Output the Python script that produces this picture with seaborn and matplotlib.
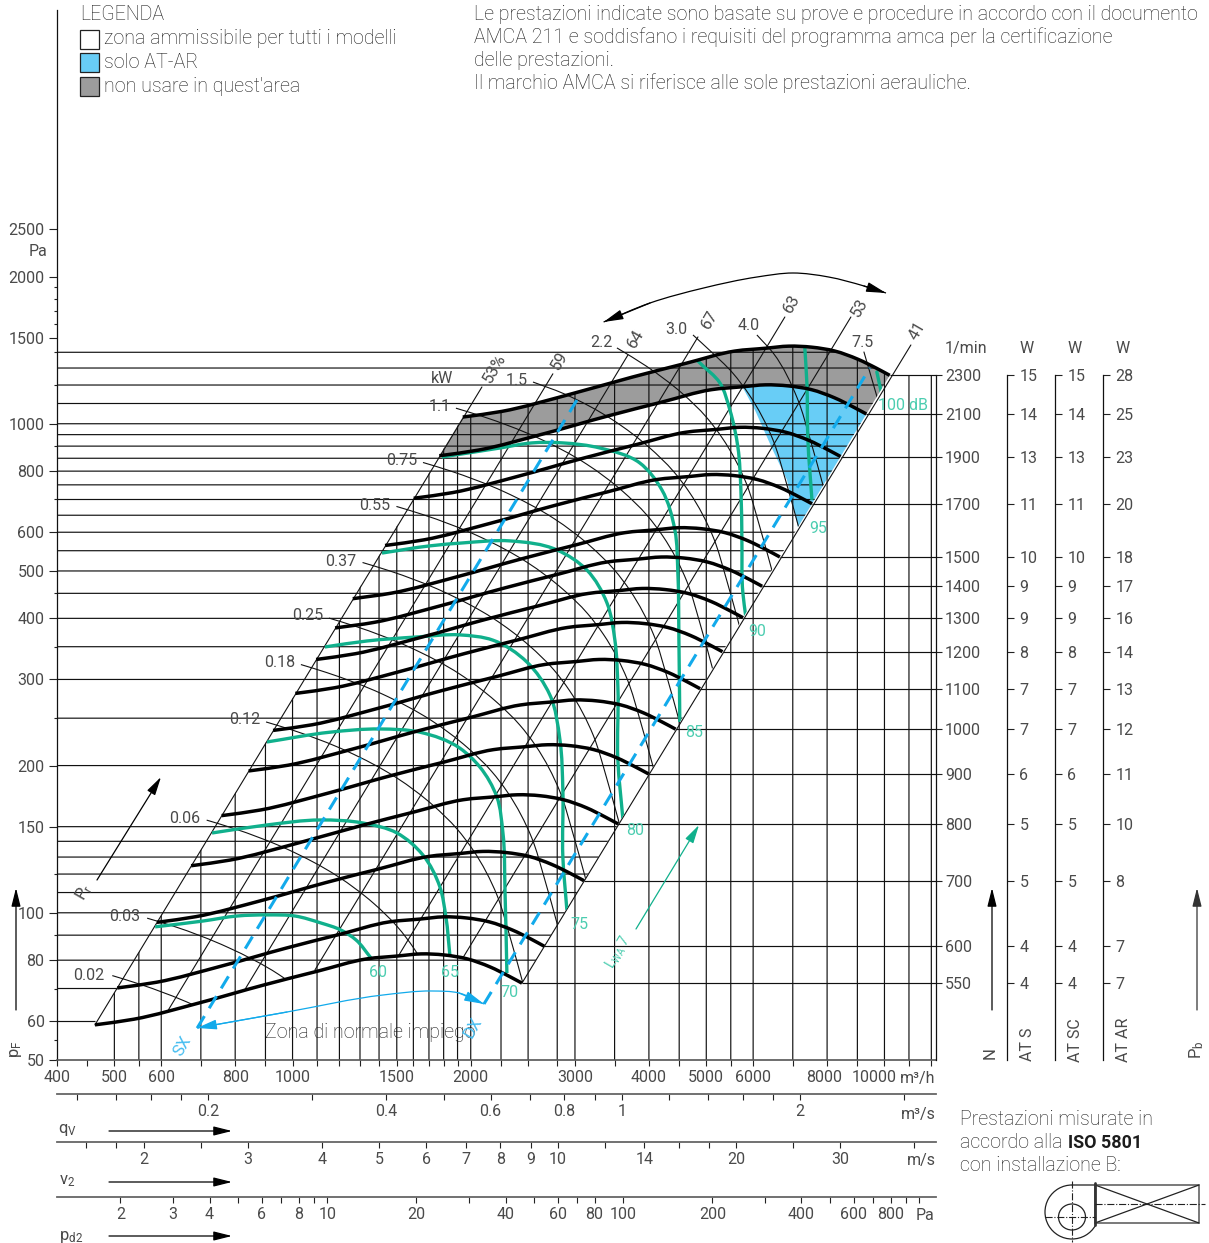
import numpy as np
import pandas as pd
import matplotlib
matplotlib.use('Agg')
import matplotlib.pyplot as plt
from matplotlib.patches import Polygon, Rectangle, Arc, Ellipse, PathPatch
from matplotlib.path import Path
from matplotlib.ticker import NullFormatter
import seaborn as sns

# ---- fan curves, one per speed: flow m3/h, pressure Pa
rpm_labels = [550, 600, 700, 800, 900, 1000, 1100, 1200, 1300, 1400, 1500, 1700, 1900, 2100, 2300]
q_550 = [463.6, 540, 695, 895, 1104, 1336, 1507, 1648, 1802, 1972, 2156, 2320, 2441]
p_550 = [59, 60.6, 65.4, 71.2, 76, 80.5, 81.6, 82.4, 82, 80.5, 77.5, 74.2, 71.8]
q_600 = [505.7, 589, 758, 976, 1204, 1457, 1644, 1798, 1966, 2151, 2352, 2531, 2663]
p_600 = [70.2, 72.1, 77.8, 84.7, 90.4, 95.8, 97.1, 98.1, 97.6, 95.8, 92.2, 88.3, 85.4]
q_700 = [590, 687, 885, 1139, 1405, 1700, 1918, 2097, 2293, 2510, 2744, 2953, 3107]
p_700 = [95.6, 98.2, 105.9, 115.3, 123.1, 130.4, 132.2, 133.5, 132.8, 130.4, 125.5, 120.2, 116.3]
q_800 = [674, 785, 1011, 1302, 1606, 1943, 2192, 2397, 2621, 2868, 3136, 3374, 3550]
p_800 = [124.8, 128.2, 138.4, 150.6, 160.8, 170.3, 172.6, 174.3, 173.5, 170.3, 164, 157, 151.9]
q_900 = [759, 884, 1137, 1465, 1807, 2186, 2466, 2697, 2949, 3227, 3528, 3796, 3994]
p_900 = [158, 162.3, 175.1, 190.7, 203.5, 215.6, 218.5, 220.6, 219.6, 215.6, 207.5, 198.7, 192.3]
q_1000 = [843, 982, 1264, 1627, 2007, 2429, 2740, 2996, 3276, 3586, 3920, 4218, 4438]
p_1000 = [195, 200.3, 216.2, 235.4, 251.2, 266.1, 269.8, 272.4, 271.1, 266.1, 256.2, 245.3, 237.4]
q_1100 = [927, 1080, 1390, 1790, 2208, 2672, 3014, 3296, 3604, 3944, 4312, 4640, 4882]
p_1100 = [236, 242.4, 261.6, 284.8, 304, 322, 326.4, 329.6, 328, 322, 310, 296.8, 287.2]
q_1200 = [1011, 1178, 1516, 1953, 2409, 2915, 3288, 3596, 3932, 4303, 4704, 5062, 5326]
p_1200 = [280.9, 288.5, 311.3, 338.9, 361.8, 383.2, 388.4, 392.3, 390.3, 383.2, 368.9, 353.2, 341.8]
q_1300 = [1096, 1276, 1643, 2115, 2609, 3158, 3562, 3895, 4259, 4661, 5096, 5484, 5770]
p_1300 = [329.6, 338.6, 365.4, 397.8, 424.6, 449.7, 455.9, 460.4, 458.1, 449.7, 433, 414.5, 401.1]
q_1400 = [1180, 1375, 1769, 2278, 2810, 3401, 3836, 4195, 4587, 5020, 5488, 5906, 6214]
p_1400 = [382.3, 392.6, 423.7, 461.3, 492.4, 521.6, 528.7, 533.9, 531.3, 521.6, 502.1, 480.8, 465.2]
q_1500 = [1264, 1473, 1895, 2441, 3011, 3644, 4110, 4495, 4915, 5378, 5880, 6327, 6657]
p_1500 = [438.8, 450.7, 486.4, 529.6, 565.3, 598.8, 606.9, 612.9, 609.9, 598.8, 576.4, 551.9, 534]
q_1700 = [1433, 1669, 2148, 2766, 3412, 4129, 4658, 5094, 5570, 6095, 6664, 7171, 7545]
p_1700 = [563.7, 579, 624.8, 680.2, 726.1, 769.1, 779.6, 787.2, 783.4, 769.1, 740.4, 708.9, 686]
q_1900 = [1602, 1865, 2401, 3092, 3814, 4615, 5206, 5693, 6225, 6812, 7448, 8014, 8432]
p_1900 = [704.1, 723.2, 780.5, 849.7, 907, 960.7, 973.8, 983.4, 978.6, 960.7, 924.9, 885.5, 856.9]
q_2100 = [1770, 2062, 2654, 3417, 4215, 5101, 5754, 6292, 6880, 7529, 8232, 8858, 9320]
p_2100 = [860.2, 883.5, 953.5, 1038, 1108, 1174, 1190, 1201, 1195, 1174, 1130, 1082, 1047]
q_2300 = [1939, 2258, 2906, 3743, 4617, 5587, 6302, 6891, 7536, 8246, 9016, 9702, 10208]
p_2300 = [1032, 1060, 1144, 1245, 1329, 1408, 1427, 1441, 1434, 1408, 1355, 1298, 1256]

# absorbed power lines
kw_labels = ['0.02', '0.03', '0.06', '0.12', '0.18', '0.25', '0.37', '0.55', '0.75', '1.1', '1.5', '2.2', '3.0', '4.0', '7.5']
kw_q = [
    [496, 549, 680, 826],
    [568, 629, 779, 946, 1087],
    [716, 792, 981, 1191, 1370, 1505, 1602, 1757],
    [902, 998, 1236, 1501, 1726, 1896, 2018, 2214, 2330, 2450],
    [1033, 1142, 1415, 1718, 1976, 2170, 2310, 2534, 2667, 2805],
    [1152, 1274, 1578, 1917, 2204, 2421, 2577, 2827, 2975, 3129],
    [1313, 1453, 1799, 2185, 2512, 2760, 2937, 3222, 3391, 3566],
    [1498, 1658, 2053, 2493, 2867, 3149, 3352, 3677, 3870, 4069],
    [1661, 1838, 2277, 2765, 3179, 3492, 3717, 4078, 4292, 4513],
    [1888, 2089, 2587, 3142, 3613, 3969, 4224, 4634, 4877, 5128],
    [2548, 2868, 3484, 4006, 4400, 4683, 5138, 5407, 5686],
    [3532, 3958, 4552, 5000, 5322, 5839, 6144, 6461],
    [4748, 5047, 5544, 5901, 6474, 6813, 7164],
    [6088, 6495, 7125, 7499, 7885],
    [9233, 9723],
]
kw_p = [
    [74.4, 71.6, 64.8, 57.1],
    [97.5, 93.9, 84.9, 74.9, 65.9],
    [154.7, 149, 134.8, 118.8, 104.6, 93.5, 84.7, 68.5],
    [245.6, 236.5, 214, 188.6, 166, 148.4, 134.4, 108.8, 89.3, 71.8],
    [321.8, 309.9, 280.4, 247.1, 217.5, 194.5, 176.1, 142.6, 117, 94.1],
    [400.5, 385.7, 349, 307.6, 270.7, 242, 219.2, 177.4, 145.6, 117.1],
    [520.3, 501, 453.4, 399.6, 351.7, 314.4, 284.7, 230.5, 189.2, 152.1],
    [677.5, 652.4, 590.3, 520.3, 457.9, 409.4, 370.8, 300.1, 246.3, 198.1],
    [833.3, 802.4, 726.1, 639.9, 563.2, 503.5, 456, 369.2, 303, 243.6],
    [1076, 1036, 937.6, 826.3, 727.3, 650.2, 588.9, 476.7, 391.3, 314.6],
    [1217, 1153, 1016, 894.1, 799.3, 723.9, 586, 481, 386.7],
    [1429, 1312, 1154, 1032, 934.6, 756.6, 621, 499.3],
    [1519, 1419, 1269, 1149, 930, 763.5, 613.9],
    [1519, 1392, 1127, 924.9, 743.6],
    [1402, 1131],
]

# sound power curves, dB
db_labels = [60, 65, 70, 75, 80, 85, 90, 95, 100]
db_q = [
    [586, 706, 806, 909, 1009, 1117, 1207, 1280, 1357],
    [731, 905, 1113, 1315, 1501, 1660, 1774, 1816, 1844],
    [905, 1156, 1405, 1642, 1918, 2072, 2214, 2267, 2285, 2302],
    [1134, 1336, 1622, 1918, 2180, 2488, 2721, 2830, 2862, 2862, 2907],
    [1416, 1706, 1940, 2330, 2797, 3143, 3398, 3504, 3545, 3545, 3616],
    [1788, 2240, 2537, 2862, 3307, 3859, 4208, 4425, 4477, 4495, 4511],
    [4785, 4878, 5272, 5481, 5654, 5721, 5743, 5765, 5832],
    [7336, 7394, 7424, 7542],
    [9708, 9899],
]
db_p = [
    [93.6, 96.2, 98.5, 99, 98.5, 95.3, 92.2, 88, 80.8],
    [145.6, 151.2, 154.8, 152.6, 145.6, 131.3, 112.9, 98, 82],
    [223.5, 234, 237.6, 234, 217, 198.7, 172.5, 145.6, 111.4, 75.3],
    [349.6, 359.6, 366.4, 370, 361, 325.7, 278.9, 225.6, 178.3, 130, 101.4],
    [544, 562.7, 570.6, 576, 552, 502, 430, 361, 289.6, 205, 154.8],
    [855, 892, 913.7, 913.7, 892, 831.7, 732, 606.6, 495, 361, 245.6],
    [1363, 1331, 1212, 1067, 896, 732, 578.6, 451, 402.6],
    [1429, 1212, 926.7, 698.6],
    [1276, 1145],
]

# efficiency lines, start on the low curve, end at the label
eff_labels = ['53%', '59', '64', '67', '63', '53', '41']
eff_q0 = [463.6, 614, 828, 1091, 1513, 1939, 2441]
eff_p0 = [59, 62.7, 69.2, 76.4, 82, 80.8, 71.8]
eff_q1 = [2089, 2753, 3686, 4841, 6788, 8776, 11083]
eff_p1 = [1189, 1265, 1382, 1505, 1653, 1653, 1449]

# SX / DX limits of normal use
sx_q = [690, 3024]
sx_p = [58.1, 1119]
dx_q = [2106, 9445]
dx_p = [65.1, 1300]

# blue "solo AT-AR" area
blue_q = [5754, 6292, 6880, 7529, 8232, 8858, 9320, 7143, 6843, 6478, 6041]
blue_p = [1190, 1201, 1195, 1174, 1130, 1082, 1047, 615, 767.5, 883, 1067]

# grid of the chart
grid_q = [500, 550, 600, 700, 800, 900, 1000, 1100, 1200, 1300, 1400, 1500, 1600, 1700, 1800, 1900, 2000,
          2250, 2500, 2800, 3000, 3500, 4000, 4500, 5000, 5500, 6000, 7000, 8000, 9000, 10000, 11000, 12000]
grid_p = [80, 90, 100, 110, 120, 130, 140, 150, 200, 250, 300, 350, 400, 450, 500, 550, 600, 650, 700, 750,
          800, 850, 900, 950, 1000, 1100, 1200, 1300, 1400]

q_ticks = [400, 500, 600, 800, 1000, 1500, 2000, 3000, 4000, 5000, 6000, 8000, 10000]
p_ticks = [50, 60, 80, 100, 150, 200, 300, 400, 500, 600, 800, 1000, 1500, 2000, 2500]
p_minor = [55, 70, 90, 120, 250, 350, 450, 700, 900, 1200, 1400, 1600, 1700, 1800, 1900]

qs_ticks = [0.2, 0.4, 0.6, 0.8, 1, 2]
qs_minor = [0.12, 0.14, 0.16, 0.18, 0.3, 0.5, 0.7, 0.9, 1.2, 1.4, 1.6, 1.8, 3]
v_ticks = [2, 3, 4, 5, 6, 7, 8, 9, 10, 14, 20, 30]
v_minor = [1.6, 1.8, 2.5, 12, 16, 18, 25, 40]
pd_ticks = [2, 3, 4, 6, 8, 10, 20, 40, 60, 80, 100, 200, 400, 600, 800]
pd_minor = [5, 7, 9, 30, 50, 70, 300, 500, 700, 900, 1000]

w_at_s = [4, 4, 5, 5, 6, 7, 7, 8, 9, 9, 10, 11, 13, 14, 15]
w_at_sc = [4, 4, 5, 5, 6, 7, 7, 8, 9, 9, 10, 11, 13, 14, 15]
w_at_ar = [7, 7, 8, 10, 11, 12, 13, 14, 16, 17, 18, 20, 23, 25, 28]

header_lines = ['Le prestazioni indicate sono basate su prove e procedure in accordo con il documento',
                'AMCA 211 e soddisfano i requisiti del programma amca per la certificazione',
                'delle prestazioni.',
                'Il marchio AMCA si riferisce alle sole prestazioni aerauliche.']
legend_items = ['zona ammissibile per tutti i modelli', 'solo AT-AR', "non usare in quest'area"]

sns.set_theme(style='ticks')
plt.rcParams['font.family'] = ['Roboto', 'DejaVu Sans']
plt.rcParams['mathtext.default'] = 'regular'
plt.rcParams['xtick.major.width'] = 0.8
plt.rcParams['ytick.major.width'] = 0.8
plt.rcParams['xtick.minor.width'] = 0.8
plt.rcParams['ytick.minor.width'] = 0.8

W, H = 1209, 1243
TXT = '#4a4a4a'
TXT_DARK = '#1c1c1c'
GREEN = '#10b08c'
GREEN_T = '#4ccdb0'
BLUE = '#12aaeb'
FS = 11.5
FT = 14.1

fig = plt.figure(figsize=(W / 100, H / 100), dpi=100, facecolor='white')


def add_px_axes(x0, y0, x1, y1):
    # axes given in picture pixels, y down
    return fig.add_axes([x0 / W, (H - y1) / H, (x1 - x0) / W, (y1 - y0) / H])


def smooth_line(ln, a, clip=None, log=True):
    # swap a polyline for a bezier through the very same vertices
    xs, ys = ln.get_data()
    xs = np.asarray(xs, dtype=float)
    ys = np.asarray(ys, dtype=float)
    if len(xs) > 2:
        u = np.log10(xs) * 592 if log else xs
        v = np.log10(ys) * 489 if log else ys
        d = np.hypot(np.diff(u), np.diff(v))
        t = np.concatenate([[0], np.cumsum(d)])
        du = np.gradient(u, t)
        dv = np.gradient(v, t)
        verts = [(u[0], v[0])]
        codes = [Path.MOVETO]
        for i in range(len(d)):
            verts.append((u[i] + du[i] * d[i] / 3, v[i] + dv[i] * d[i] / 3))
            verts.append((u[i + 1] - du[i + 1] * d[i] / 3, v[i + 1] - dv[i + 1] * d[i] / 3))
            verts.append((u[i + 1], v[i + 1]))
            codes += [Path.CURVE4] * 3
        verts = np.array(verts)
        if log:
            verts = np.column_stack([10 ** (verts[:, 0] / 592), 10 ** (verts[:, 1] / 489)])
        patch = PathPatch(Path(verts, codes), fc='none', ec=ln.get_color(), lw=ln.get_linewidth(),
                          zorder=ln.get_zorder(), capstyle='butt', joinstyle='round')
        a.add_patch(patch)
        ln.remove()
        if clip is not None:
            patch.set_clip_path(clip)
    elif clip is not None:
        ln.set_clip_path(clip)


XL = (400, 12220)
YL = (50, 7015)
ax = add_px_axes(57, 10, 936, 1060)
ax.set_xscale('log')
ax.set_yscale('log')
ax.set_xlim(*XL)
ax.set_ylim(*YL)
ax.patch.set_alpha(0)

# clip shapes
clip_par = Polygon(list(zip(q_550, p_550)) + list(zip(q_2300[::-1], p_2300[::-1])), closed=True, transform=ax.transData)
clip_low = Polygon(list(zip(q_550, p_550)) + [(10208, 1256), (15000, 2712), (300, 2712), (300, 59)], closed=True, transform=ax.transData)
clip_v = Polygon([(463.6, 50), (463.6, 59)] + list(zip(q_2300, p_2300)) + [(12220, 1256), (12220, 50)], closed=True, transform=ax.transData)
clip_h = Polygon([(300, 50), (300, 1441)] + list(zip(q_2300[7:], p_2300[7:])) + [(2441, 71.8), (2441, 50)], closed=True, transform=ax.transData)

# areas
ax.fill(q_2300 + q_2100[::-1], p_2300 + p_2100[::-1], color='#9c9c9c', lw=0, zorder=1)
ax.fill(blue_q, blue_p, color='#68cdf6', lw=0, zorder=1)

# grid, not snapped so the lines take the soft grey look of the scan
gv = ax.vlines(grid_q, 50, 5000, color='#111111', lw=0.85, zorder=2)
gv.set_clip_path(clip_v)
gv.set_snap(False)
gh = ax.hlines(grid_p, 300, 15000, color='#111111', lw=0.85, zorder=2)
gh.set_clip_path(clip_h)
gh.set_snap(False)
ax.hlines([60, 70.2], 400, [463.6, 505.7], color='#111111', lw=0.85, zorder=2)
rpm_curves_q = [q_550, q_600, q_700, q_800, q_900, q_1000, q_1100, q_1200, q_1300, q_1400, q_1500, q_1700, q_1900, q_2100, q_2300]
rpm_curves_p = [p_550, p_600, p_700, p_800, p_900, p_1000, p_1100, p_1200, p_1300, p_1400, p_1500, p_1700, p_1900, p_2100, p_2300]
p_end = [c[-1] for c in rpm_curves_p]
q_end = [c[-1] for c in rpm_curves_q]
ax.hlines(p_end, q_end, XL[1], color='#111111', lw=0.85, zorder=2)

# efficiency lines
for q0, p0, q1, p1 in zip(eff_q0, eff_p0, eff_q1, eff_p1):
    ax.plot([q0, q1], [p0, p1], color='#111111', lw=0.8, zorder=3)

# power lines
rows = []
for name, qq, pp in zip(kw_labels, kw_q, kw_p):
    rows.append(pd.DataFrame({'q': qq, 'p': pp, 'kw': name}))
df_kw = pd.concat(rows)
n = len(ax.lines)
sns.lineplot(data=df_kw, x='q', y='p', units='kw', estimator=None, sort=False, color='#111111', lw=0.8, legend=False, ax=ax, zorder=3)
for ln in list(ax.lines[n:]):
    smooth_line(ln, ax, clip=clip_low)

# dB curves
rows = []
for name, qq, pp in zip(db_labels, db_q, db_p):
    rows.append(pd.DataFrame({'q': qq, 'p': pp, 'db': name}))
df_db = pd.concat(rows)
n = len(ax.lines)
sns.lineplot(data=df_db, x='q', y='p', units='db', estimator=None, sort=False, color=GREEN, lw=2.4, legend=False, ax=ax, zorder=4)
for ln in list(ax.lines[n:]):
    smooth_line(ln, ax, clip=clip_par)

# speed curves
rows = []
for name, qq, pp in zip(rpm_labels, rpm_curves_q, rpm_curves_p):
    rows.append(pd.DataFrame({'q': qq, 'p': pp, 'rpm': name}))
df_rpm = pd.concat(rows)
n = len(ax.lines)
sns.lineplot(data=df_rpm, x='q', y='p', units='rpm', estimator=None, sort=False, color='black', lw=2.5, legend=False, ax=ax, zorder=5)
for ln in list(ax.lines[n:]):
    smooth_line(ln, ax)

# SX, DX
ax.plot(sx_q, sx_p, color=BLUE, lw=2.2, ls=(0, (4.6, 3)), zorder=6)
ax.plot(dx_q, dx_p, color=BLUE, lw=2.2, ls=(0, (4.6, 3)), zorder=6)

ax.set_xlim(*XL)
ax.set_ylim(*YL)
ax.set_xlabel('')
ax.set_ylabel('')
ax.set_xticks(q_ticks)
ax.set_xticklabels([str(v) if v < 8000 else '' for v in q_ticks])
ax.set_xticks([450] + [v for v in grid_q if v not in q_ticks], minor=True)
ax.xaxis.set_minor_formatter(NullFormatter())
ax.set_yticks(p_ticks)
ax.set_yticklabels([str(v) for v in p_ticks])
ax.set_yticks(p_minor, minor=True)
ax.yaxis.set_minor_formatter(NullFormatter())
ax.tick_params(axis='x', which='major', length=4.5, pad=3, labelsize=FS, colors='#222222', labelcolor=TXT)
ax.tick_params(axis='x', which='minor', length=4.5, colors='#222222')
ax.tick_params(axis='y', which='major', length=6, pad=3, labelsize=FS, colors='#222222', labelcolor=TXT)
ax.tick_params(axis='y', which='minor', length=2.5, colors='#222222')
ax.spines['top'].set_visible(False)
ax.spines['right'].set_visible(False)
ax.spines['left'].set_color('#111111')
ax.spines['left'].set_linewidth(0.9)
ax.spines['bottom'].set_color('#555555')
ax.spines['bottom'].set_linewidth(1.2)

# speed scale on the right
ar = ax.twinx()
ar.set_yscale('log')
ar.set_ylim(*YL)
ar.patch.set_alpha(0)
ar.set_yticks(p_end)
ar.set_yticklabels([str(v) for v in rpm_labels])
ar.yaxis.set_minor_locator(plt.NullLocator())
ar.yaxis.set_minor_formatter(NullFormatter())
ar.tick_params(axis='y', length=4, pad=2.5, labelsize=FS, colors='#222222', labelcolor=TXT)
ar.grid(False)
for s in ['top', 'left', 'bottom']:
    ar.spines[s].set_visible(False)
ar.spines['right'].set_bounds(50, 1256)
ar.spines['right'].set_color('#111111')
ar.spines['right'].set_linewidth(0.9)

# W scales
for xpos, vals in zip([1007, 1055, 1103], [w_at_s, w_at_sc, w_at_ar]):
    aw = add_px_axes(xpos - 1, 10, xpos, 1060)
    aw.set_yscale('log')
    aw.set_ylim(*YL)
    aw.set_xticks([])
    aw.patch.set_alpha(0)
    aw.yaxis.tick_right()
    aw.set_yticks(p_end)
    aw.set_yticklabels([str(v) for v in vals])
    aw.yaxis.set_minor_locator(plt.NullLocator())
    aw.yaxis.set_minor_formatter(NullFormatter())
    aw.tick_params(axis='y', length=5, pad=4, labelsize=FS, colors='#222222', labelcolor=TXT)
    for s in ['top', 'left', 'bottom']:
        aw.spines[s].set_visible(False)
    aw.spines['right'].set_bounds(50, 1256)
    aw.spines['right'].set_color('#111111')
    aw.spines['right'].set_linewidth(0.9)


# lower scales
def lower_scale(ypx, lims, major, minor):
    a = add_px_axes(57, ypx - 1, 936, ypx)
    a.set_xscale('log')
    a.set_xlim(*lims)
    a.set_yticks([])
    a.patch.set_alpha(0)
    a.set_xticks(major)
    a.set_xticklabels([str(v) for v in major])
    a.set_xticks(minor, minor=True)
    a.xaxis.set_minor_formatter(NullFormatter())
    a.tick_params(axis='x', which='both', length=4.5, colors='#222222', labelsize=FS, labelcolor=TXT, pad=3)
    for s in ['top', 'left', 'right']:
        a.spines[s].set_visible(False)
    a.spines['bottom'].set_color('#666666')
    a.spines['bottom'].set_linewidth(1.3)
    return a


lower_scale(1094, (XL[0] / 3600, XL[1] / 3600), qs_ticks, qs_minor)
lower_scale(1142, (1.429, 43.5), v_ticks, v_minor)
lower_scale(1197, (1.221, 1139), pd_ticks, pd_minor)

# ---- texts and notes, picture pixels
fx = fig.add_axes([0, 0, 1, 1], zorder=20)
fx.set_xlim(0, W)
fx.set_ylim(H, 0)
fx.axis('off')
fx.patch.set_alpha(0)


def put(x, y, s, ha='left', color=TXT, rot=0, fs=FS, **kw):
    fx.text(x, y, s, ha=ha, va='center', color=color, rotation=rot, fontsize=fs, rotation_mode='anchor', **kw)


def put_big(x, y, s, ha='left'):
    # the long sentences are set thinner and darker
    put(x, y, s, ha=ha, color=TXT_DARK, fs=FT, fontweight='light')


def arrow(x0, y0, x1, y1, color='black', lw=0.9, ms=14):
    fx.annotate('', xy=(x1, y1), xytext=(x0, y0),
                arrowprops=dict(arrowstyle='-|>,head_width=0.2,head_length=0.8', color=color, lw=lw,
                                shrinkA=0, shrinkB=0, mutation_scale=ms))


# legend
put_big(80, 14, 'LEGENDA')
for yb, col, txt, yt in zip([29.5, 53, 77], ['white', '#68cdf6', '#9c9c9c'], legend_items, [38.5, 62.5, 86.5]):
    fx.add_patch(Rectangle((80, yb), 19, 19, fc=col, ec='#222222', lw=0.9))
    put_big(104, yt, txt)
for i, line in enumerate(header_lines):
    put_big(474, 14.5 + i * 23, line)

put(38, 251, 'Pa', ha='center')
put(966, 348, '1/min', ha='center')
for x in [1027, 1075, 1123]:
    put(x, 348, 'W', ha='center')

put(824, 1077, '8000', ha='center')
put(874, 1077, '10000', ha='center')
put(918, 1078, 'm³/h', ha='center')
put(918, 1114, 'm³/s', ha='center')
put(921, 1161, 'm/s', ha='center')
put(925, 1215, 'Pa', ha='center')

# kW labels
kw_pos = [(89, 975), (125, 916), (185, 818), (245, 719), (280, 662), (308, 615), (341, 561), (375, 505), (402, 460),
          (440, 406), (517, 380), (601, 342), (676, 329), (749, 325), (862, 342)]
for (x, y), s in zip(kw_pos, kw_labels):
    put(x, y, s, ha='center')
put(442, 378, 'kW', ha='center')

eff_pos = [(487, 382), (555, 369), (631, 347), (705, 328), (787, 312), (855, 316), (913, 339)]
for (x, y), s in zip(eff_pos, eff_labels):
    put(x, y, s, rot=60, fs=12)

db_pos = [(378, 972), (450, 972), (509, 992), (579, 924), (635, 830), (694, 732), (757, 631), (818, 528)]
for (x, y), s in zip(db_pos, db_labels):
    put(x, y, str(s), ha='center', color=GREEN_T)
put(903, 405, '100 dB', ha='center', color=GREEN_T)

# flow direction notes
put_big(370, 1033, 'Zona di normale impiego', ha='center')
put(177, 1055, 'SX', color='#45bdf0', rot=60, fs=12)
put(468, 1037, 'DX', color='#45bdf0', rot=60, fs=12)
zx = [197, 287, 383, 432, 459, 484]
zy = [1028, 1012, 995, 991, 993, 1004]
zl = fx.plot(zx, zy, color=BLUE, lw=0.9)[0]
smooth_line(zl, fx, log=False)
arrow(287, 1012, 197, 1028, color=BLUE, ms=15)
arrow(459, 993, 484, 1004, color=BLUE, ms=15)

tx = [603.6, 650, 703.6, 757, 793, 828.6, 864, 886]
ty = [322, 303, 288, 277, 273, 277, 286, 293]
tl = fx.plot(tx, ty, color='black', lw=0.9)[0]
smooth_line(tl, fx, log=False)
arrow(650, 303, 603.6, 322, ms=15)
arrow(864, 286, 886, 293, ms=15)

arrow(97, 880, 161, 777)
put(80, 899, '$P_r$', rot=60, fs=12)
arrow(636, 929, 699, 825, color=GREEN)
put(609, 968, '$L_{WA}$ 7', color=GREEN_T, rot=60, fs=10)

arrow(16, 1010, 16, 888)
put(16, 1049, '$p_F$', ha='center', rot=90, fs=12)
arrow(992, 1010, 992, 888)
put(990, 1053, 'N', ha='center', rot=90, fs=12)
put(1028, 1044, 'AT S', ha='center', rot=90)
put(1076, 1040, 'AT SC', ha='center', rot=90)
put(1124, 1040, 'AT AR', ha='center', rot=90)
arrow(1197, 1010, 1197, 888, color='#333333')
put(1197, 1050, '$P_b$', ha='center', rot=90, fs=12)

put(67, 1130, '$q_V$', ha='center', fs=12)
arrow(109, 1131, 232, 1131)
put(67, 1181, '$v_2$', ha='center', fs=12)
arrow(109, 1182, 232, 1182)
put(71, 1237, '$p_{d2}$', ha='center', fs=12)
arrow(109, 1236, 232, 1236)

# installation note
put_big(960, 1119.5, 'Prestazioni misurate in')
put_big(960, 1142.5, 'accordo alla')
put(1068, 1142.5, 'ISO 5801', color=TXT_DARK, fs=12.9, fontweight='bold')
put_big(960, 1165.5, 'con installazione B:')

# small fan sketch
fx.add_patch(Arc((1072, 1212), 54, 54, theta1=30, theta2=270, color='#222222', lw=0.9))
fx.add_patch(Ellipse((1072, 1217), 27, 26, fc='none', ec='#222222', lw=0.9))
fx.plot([1072, 1095], [1185, 1185], color='#555555', lw=1.2)
fx.add_patch(Rectangle((1095, 1185), 104, 38, fc='none', ec='#555555', lw=1.1))
fx.plot([1095, 1199], [1185, 1223], color='#222222', lw=0.9)
fx.plot([1095, 1199], [1223, 1185], color='#222222', lw=0.9)
fx.plot([1095, 1095], [1183, 1225], color='#333333', lw=2)
fx.plot([1095, 1205], [1204, 1204], color='#222222', lw=0.8, ls='-.')
fx.plot([1072, 1072], [1181, 1242], color='#222222', lw=0.8, ls='-.')
fx.plot([1045, 1095], [1217, 1217], color='#222222', lw=0.8, ls='-.')

fig.savefig('out.png', dpi=100)
